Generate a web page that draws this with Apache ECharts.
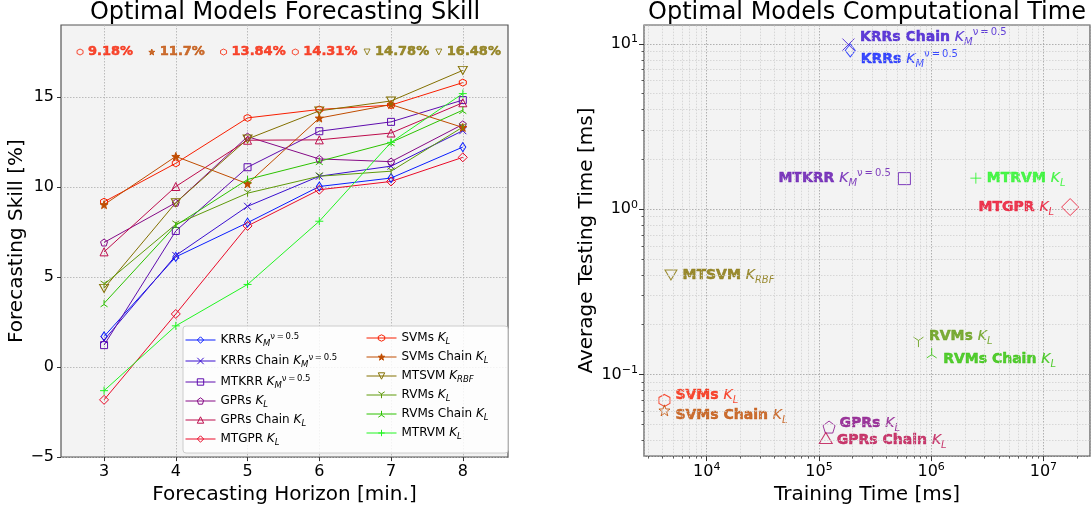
<!DOCTYPE html>
<html><head><meta charset="utf-8">
<script src="https://cdn.jsdelivr.net/npm/echarts@6/dist/echarts.min.js"></script>
<style>html,body{margin:0;padding:0;background:#fff}#c{width:1091px;height:510px}</style>
</head><body><div id="c"></div>
<script>
// ---------------- DATA ----------------
const horizons = [3, 4, 5, 6, 7, 8];
const xTicks = [3, 4, 5, 6, 7, 8];
const yTicks = [-5, 0, 5, 10, 15];
const modelNames = ['KRRs', 'KRRs Chain', 'MTKRR', 'GPRs', 'GPRs Chain', 'MTGPR',
                    'SVMs', 'SVMs Chain', 'MTSVM', 'RVMs', 'RVMs Chain', 'MTRVM'];
const kernelSub = ['M', 'M', 'M', 'L', 'L', 'L', 'L', 'L', 'RBF', 'L', 'L', 'L'];
const kernelSup = ['ν\u2009=\u20090.5', 'ν\u2009=\u20090.5', 'ν\u2009=\u20090.5', '', '', '', '', '', '', '', '', ''];

const skillKRRs      = [1.70, 6.12, 8.02, 10.03, 10.50, 12.22];
const skillKRRsChain = [1.50, 6.20, 8.93, 10.60, 11.16, 13.13];
const skillMTKRR     = [1.22, 7.56, 11.10, 13.10, 13.62, 14.83];
const skillGPRs      = [6.92, 9.13, 12.80, 11.56, 11.41, 13.48];
const skillGPRsChain = [6.40, 10.03, 12.60, 12.62, 13.00, 14.68];
const skillMTGPR     = [-1.82, 2.95, 7.84, 9.85, 10.31, 11.65];
const skillSVMs      = [9.18, 11.32, 13.84, 14.31, 14.55, 15.80];
const skillSVMsChain = [9.02, 11.7, 10.18, 13.83, 14.58, 13.31];
const skillMTSVM     = [4.37, 9.13, 12.67, 14.23, 14.78, 16.48];
const skillRVMs      = [4.59, 7.93, 9.66, 10.60, 10.88, 13.33];
const skillRVMsChain = [3.54, 7.87, 10.42, 11.43, 12.48, 14.27];
const skillMTRVM     = [-1.31, 2.29, 4.59, 8.10, 12.48, 15.19];
const skillSeries = [skillKRRs, skillKRRsChain, skillMTKRR, skillGPRs, skillGPRsChain, skillMTGPR,
                     skillSVMs, skillSVMsChain, skillMTSVM, skillRVMs, skillRVMsChain, skillMTRVM];

const trainTime = [1.90e5, 1.83e5, 5.77e5, 1.23e5, 1.15e5, 1.73e7, 4.2e3, 4.2e3, 4.8e3, 7.7e5, 1.01e6, 2.5e6];
const testTime  = [9.12, 9.9, 1.53, 0.0481, 0.0413, 1.03, 0.0697, 0.0607, 0.40, 0.157, 0.135, 1.54];

const logXMinor = [3e3,4e3,5e3,6e3,7e3,8e3,9e3, 2e4,3e4,4e4,5e4,6e4,7e4,8e4,9e4,
                   2e5,3e5,4e5,5e5,6e5,7e5,8e5,9e5, 2e6,3e6,4e6,5e6,6e6,7e6,8e6,9e6, 2e7];
const logYMinor = [0.04,0.05,0.06,0.07,0.08,0.09, 0.2,0.3,0.4,0.5,0.6,0.7,0.8,0.9, 2,3,4,5,6,7,8,9];

// ---------------- STYLE ----------------
const FONT = 'DejaVu Sans';
const colors = ['#0a1eff', '#3a0fd0', '#5f0cae', '#860a86', '#bd0c4c', '#ea0a28',
                '#f81e00', '#c04c00', '#837000', '#5e9a0a', '#2cc200', '#22f522'];
const P = {
  diamond: 'path://M10,0 L20,10 L10,20 L0,10 Z',
  x: 'path://M0,0 L20,20 M20,0 L0,20',
  square: 'path://M0,0 L20,0 L20,20 L0,20 Z',
  pentagon: 'path://M10,0 L19.51,6.91 L15.88,18.09 L4.12,18.09 L0.49,6.91 Z',
  triUp: 'path://M10,0 L20,17.3 L0,17.3 Z',
  triDown: 'path://M0,0 L20,0 L10,17.3 Z',
  hexagon: 'path://M10,0 L18.66,5 L18.66,15 L10,20 L1.34,15 L1.34,5 Z',
  star: 'path://M10,0 L12.35,6.76 L19.51,6.91 L13.8,11.24 L15.88,18.09 L10,14 L4.12,18.09 L6.2,11.24 L0.49,6.91 L7.65,6.76 Z',
  tri1: 'path://M10,10 L10,20 M10,10 L1.34,5 M10,10 L18.66,5',
  tri2: 'path://M10,10 L10,0 M10,10 L1.34,15 M10,10 L18.66,15',
  plus: 'path://M10,0 L10,20 M0,10 L20,10'
};
const symbols = [P.diamond, P.x, P.square, P.pentagon, P.triUp, P.diamond, P.hexagon, P.star, P.triDown, P.tri1, P.tri2, P.plus];
const leftSize = [[6,9], 7, 7, 7, 8, 9, 7, 8, [9,8], 7, 7, 8];
const leftFilled = [false,false,false,false,false,false,false,true,false,false,false,false];
const rightSize = [[10,13], 12, 12, 12, [13,11], 17, [11,12], 11, [12,10], 10, 10, 11];
const rightLabelPos = ['right','right','left','right','right','left','right','right','right','right','right','right'];
const rightLabelOffset = [[0,9],[0,-7],[0,0],[0,-4],[0,2],[0,0],[0,-5],[0,5],[0,0],[0,-6],[0,6],[0,0]];
const rightLabelDist = [5,5,7,4,4,7,5,5,5,5,6,5];
const ANNOT_Y = 17.5;
const CLEAR = 'rgba(0,0,0,0)';
const XMIN = 2761, XMAX = 2.6e7, YMIN = 0.0321, YMAX = 13.0;

function richName(i) {
  let s = '{n|' + modelNames[i] + ' }{k|K}{s|' + kernelSub[i] + '}';
  if (kernelSup[i]) s += '{p|' + kernelSup[i] + '}';
  return s;
}
function supLabel(v) {
  const e = Math.round(Math.log10(v));
  return '{b|10}{e|' + (e < 0 ? '\u2212' + (-e) : e) + '}';
}

const legendRich = {
  n: {fontSize: 12, fontFamily: FONT, lineHeight: 16, color: '#000'},
  k: {fontSize: 12, fontFamily: FONT, fontStyle: 'italic', lineHeight: 16, color: '#000'},
  s: {fontSize: 8.5, fontFamily: FONT, fontStyle: 'italic', lineHeight: 9, verticalAlign: 'bottom', color: '#000'},
  p: {fontSize: 8.5, fontFamily: FONT, lineHeight: 8, verticalAlign: 'top', color: '#000'}
};
function labelRich(c) {
  const tb = {textBorderColor: c, textBorderWidth: 0.5};
  return {
    n: {fontSize: 14, fontFamily: FONT, fontWeight: 'bold', lineHeight: 20, color: c, ...tb},
    k: {fontSize: 14, fontFamily: FONT, fontStyle: 'italic', lineHeight: 20, color: c, textBorderColor: c, textBorderWidth: 0.2},
    s: {fontSize: 10, fontFamily: FONT, fontStyle: 'italic', lineHeight: 11, verticalAlign: 'bottom', color: c},
    p: {fontSize: 10, fontFamily: FONT, lineHeight: 10, verticalAlign: 'top', color: c}
  };
}
const tickRich = {
  b: {fontSize: 16, fontFamily: FONT, lineHeight: 20, color: '#000'},
  e: {fontSize: 11, fontFamily: FONT, lineHeight: 9, verticalAlign: 'top', color: '#000'}
};

// best model per horizon (annotation)
const best = horizons.map((h, j) => {
  let bi = 0;
  skillSeries.forEach((s, i) => { if (s[j] > skillSeries[bi][j]) bi = i; });
  return {h: h, i: bi, v: skillSeries[bi][j]};
});

const chart = echarts.init(document.getElementById('c'), null, {renderer: 'canvas'});

const gridLine = {show: true, lineStyle: {color: '#b4b4b4', type: [1.5, 1.5], width: 0.9}};
const axisTxt = {fontFamily: FONT, fontSize: 16, color: '#000'};
const nameTxt = {fontFamily: FONT, fontSize: 20, color: '#000'};

const series = [];
modelNames.forEach((name, i) => {
  series.push({
    type: 'line', name: name, xAxisIndex: 0, yAxisIndex: 0, z: 2,
    data: horizons.map((h, j) => [h, skillSeries[i][j]]),
    symbol: symbols[i], symbolSize: leftSize[i], showAllSymbol: true,
    lineStyle: {color: colors[i], width: 1},
    itemStyle: {color: leftFilled[i] ? colors[i] : CLEAR, borderColor: colors[i], borderWidth: 1},
    emphasis: {disabled: true}, animation: false
  });
});
// annotation markers
series.push({
  type: 'scatter', xAxisIndex: 0, yAxisIndex: 0, z: 5, silent: true, animation: false,
  data: best.map(b => ({value: [b.h, ANNOT_Y], symbol: symbols[b.i], symbolSize: 6,
    symbolOffset: [-24, 0],
    itemStyle: {color: leftFilled[b.i] ? colors[b.i] : CLEAR, borderColor: colors[b.i], borderWidth: 1}}))
});
// annotation texts
series.push({
  type: 'scatter', xAxisIndex: 0, yAxisIndex: 0, z: 5, silent: true, animation: false,
  symbolSize: 1, itemStyle: {color: CLEAR, borderWidth: 0},
  data: best.map(b => ({value: [b.h, ANNOT_Y, b.v],
    label: {show: true, position: 'inside', align: 'left', offset: [-16, 0],
      formatter: p => p.value[2] + '%', color: colors[b.i],
      textBorderColor: colors[b.i], textBorderWidth: 0.5,
      fontFamily: FONT, fontWeight: 'bold', fontSize: 13}}))
});
// right chart points
modelNames.forEach((name, i) => {
  const s = {
    type: 'scatter', name: name + ' t', xAxisIndex: 1, yAxisIndex: 1, z: 4, animation: false, silent: true,
    data: [{value: [trainTime[i], testTime[i]]}],
    symbol: symbols[i], symbolSize: rightSize[i],
    itemStyle: {color: CLEAR, borderColor: colors[i], borderWidth: 1},
    label: {show: true, position: rightLabelPos[i], distance: rightLabelDist[i], offset: rightLabelOffset[i],
      formatter: () => richName(i), rich: labelRich(colors[i])}
  };
  if (i === 0) {
    s.markLine = {
      silent: true, symbol: 'none', animation: false, label: {show: false},
      lineStyle: {color: '#cfcfcf', type: [1.5, 1.5], width: 0.8},
      emphasis: {disabled: true},
      data: logXMinor.map(v => ({xAxis: v})).concat(logYMinor.map(v => ({yAxis: v})))
    };
  }
  series.push(s);
});

function legendItems(from, to) {
  const out = [];
  for (let i = from; i < to; i++) {
    out.push({name: modelNames[i],
      itemStyle: {color: leftFilled[i] ? colors[i] : CLEAR, borderColor: colors[i], borderWidth: 1},
      lineStyle: {color: colors[i], width: 1}});
  }
  return out;
}

const minorAxisBase = {
  gridIndex: 1, type: 'value', axisLine: {show: false, onZero: false}, axisLabel: {show: false},
  splitLine: {show: false}
};

const option = {
  backgroundColor: '#ffffff',
  animation: false,
  title: [
    {text: 'Optimal Models Forecasting Skill', left: 285, textAlign: 'center', top: 1, padding: 0,
     textStyle: {fontFamily: FONT, fontSize: 24, fontWeight: 'normal', color: '#000'}},
    {text: 'Optimal Models Computational Time', left: 867, textAlign: 'center', top: 1, padding: 0,
     textStyle: {fontFamily: FONT, fontSize: 24, fontWeight: 'normal', color: '#000'}}
  ],
  grid: [
    {left: 61, top: 25, width: 447, height: 435, show: true, backgroundColor: '#f3f3f3', borderColor: '#555', borderWidth: 1.2},
    {left: 644, top: 25, width: 446, height: 435, show: true, backgroundColor: '#f3f3f3', borderColor: '#555', borderWidth: 1.2}
  ],
  xAxis: [
    {type: 'value', gridIndex: 0, min: 2.4, max: 8.63,
     axisLine: {show: false, onZero: false},
     axisTick: {show: true, length: 4, inside: false, customValues: xTicks, lineStyle: {color: '#333'}},
     axisLabel: {customValues: xTicks, margin: 7, ...axisTxt},
     splitLine: gridLine,
     name: 'Forecasting Horizon [min.]', nameLocation: 'middle', nameGap: 22, nameTextStyle: nameTxt},
    {type: 'log', logBase: 10, gridIndex: 1, min: XMIN, max: XMAX, position: 'bottom',
     axisLine: {show: false, onZero: false},
     axisTick: {show: true, length: 5, lineStyle: {color: '#333'}},
     axisLabel: {formatter: v => supLabel(v), rich: tickRich, margin: 6, showMinLabel: false, showMaxLabel: false},
     splitLine: {show: true, lineStyle: {color: '#a8a8a8', type: [1.5, 1.5], width: 0.9}},
     name: 'Training Time [ms]', nameLocation: 'middle', nameGap: 22, nameTextStyle: nameTxt},
    {...minorAxisBase, position: 'bottom', min: Math.log10(XMIN), max: Math.log10(XMAX),
     axisTick: {show: true, length: 2.5, customValues: logXMinor.map(Math.log10), lineStyle: {color: '#333', width: 0.8}}}
  ],
  yAxis: [
    {type: 'value', gridIndex: 0, min: -5, max: 19,
     axisLine: {show: false, onZero: false},
     axisTick: {show: true, length: 4, customValues: yTicks, lineStyle: {color: '#333'}},
     axisLabel: {customValues: yTicks, margin: 7, formatter: v => String(v).replace('-', '\u2212'), ...axisTxt},
     splitLine: gridLine,
     name: 'Forecasting Skill [%]', nameLocation: 'middle', nameGap: 33, nameTextStyle: nameTxt},
    {type: 'log', logBase: 10, gridIndex: 1, min: YMIN, max: YMAX, position: 'left',
     axisLine: {show: false, onZero: false},
     axisTick: {show: true, length: 5, lineStyle: {color: '#333'}},
     axisLabel: {formatter: v => supLabel(v), rich: tickRich, margin: 6, showMinLabel: false, showMaxLabel: false},
     splitLine: {show: true, lineStyle: {color: '#a8a8a8', type: [1.5, 1.5], width: 0.9}},
     name: 'Average Testing Time [ms]', nameLocation: 'middle', nameGap: 47, nameTextStyle: nameTxt},
    {...minorAxisBase, position: 'left', min: Math.log10(YMIN), max: Math.log10(YMAX),
     axisTick: {show: true, length: 2.5, customValues: logYMinor.map(Math.log10), lineStyle: {color: '#333', width: 0.8}}}
  ],
  legend: [
    {data: legendItems(0, 6), orient: 'vertical', left: 185, top: 332, padding: 0,
     itemWidth: 30, itemHeight: 8, itemGap: 5, z: 6, selectedMode: false,
     formatter: name => richName(modelNames.indexOf(name)),
     textStyle: {fontFamily: FONT, fontSize: 12, color: '#000', rich: legendRich}},
    {data: legendItems(6, 12), orient: 'vertical', left: 366, top: 332, padding: 0,
     itemWidth: 30, itemHeight: 8, itemGap: 5, z: 6, selectedMode: false,
     formatter: name => richName(modelNames.indexOf(name)),
     textStyle: {fontFamily: FONT, fontSize: 12, color: '#000', rich: legendRich}}
  ],
  graphic: [
    {type: 'rect', z: 3, silent: true,
     shape: {x: 183, y: 326, width: 325, height: 127, r: 3},
     style: {fill: 'rgba(255,255,255,0.82)', stroke: '#cccccc', lineWidth: 1}}
  ],
  series: series
};
chart.setOption(option);
</script>
</body></html>
